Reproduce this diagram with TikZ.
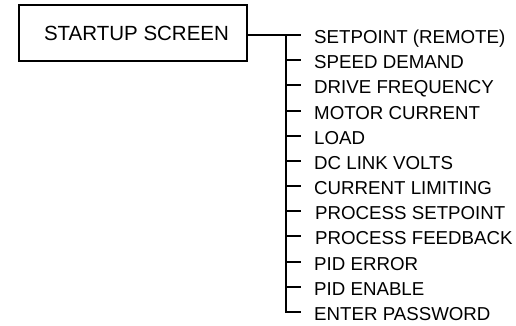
\documentclass[tikz,border=0pt]{standalone}
\usepackage{fontspec}
\setmainfont{Liberation Sans}
\begin{document}
\begin{tikzpicture}[x=1pt,y=-1pt,
  line/.style={line width=1.8pt, black},
  mainbox/.style={draw, line width=1.6pt, minimum width=228pt, minimum height=56pt, inner sep=0pt},
  item/.style={anchor=base west, inner sep=0pt, font=\fontsize{18.7}{22}\selectfont}]
\useasboundingbox (0,0) rectangle (516,326);
\node[mainbox] (box) at (133,33) {};
\node[anchor=base, inner sep=0pt, font=\fontsize{20.5}{24}\selectfont] (boxtext) at (136.5,40.7) {STARTUP SCREEN};
\foreach \i/\t/\dx in {1/SETPOINT (REMOTE)/0, 2/SPEED DEMAND/0, 3/DRIVE FREQUENCY/0, 4/MOTOR CURRENT/0, 5/LOAD/0, 6/DC LINK VOLTS/0, 7/CURRENT LIMITING/0, 8/PROCESS SETPOINT/1, 9/PROCESS FEEDBACK/1, 10/PID ERROR/0, 11/PID ENABLE/0, 12/ENTER PASSWORD/0}{
  \pgfmathsetmacro{\yy}{round(35+25.18*(\i-1))}
  \coordinate (j\i) at (286,\yy);
  \coordinate (t\i) at (301,\yy);
  \node[item] (l\i) at (314+\dx,\yy+8.5) {\t};
}
\draw[line] (box.east |- t1) -- (t1);
\draw[line] (j1) -- (j12) -- (t12);
\foreach \i in {2,...,11}{ \draw[line] (j\i) -- (t\i); }
\end{tikzpicture}
\end{document}
